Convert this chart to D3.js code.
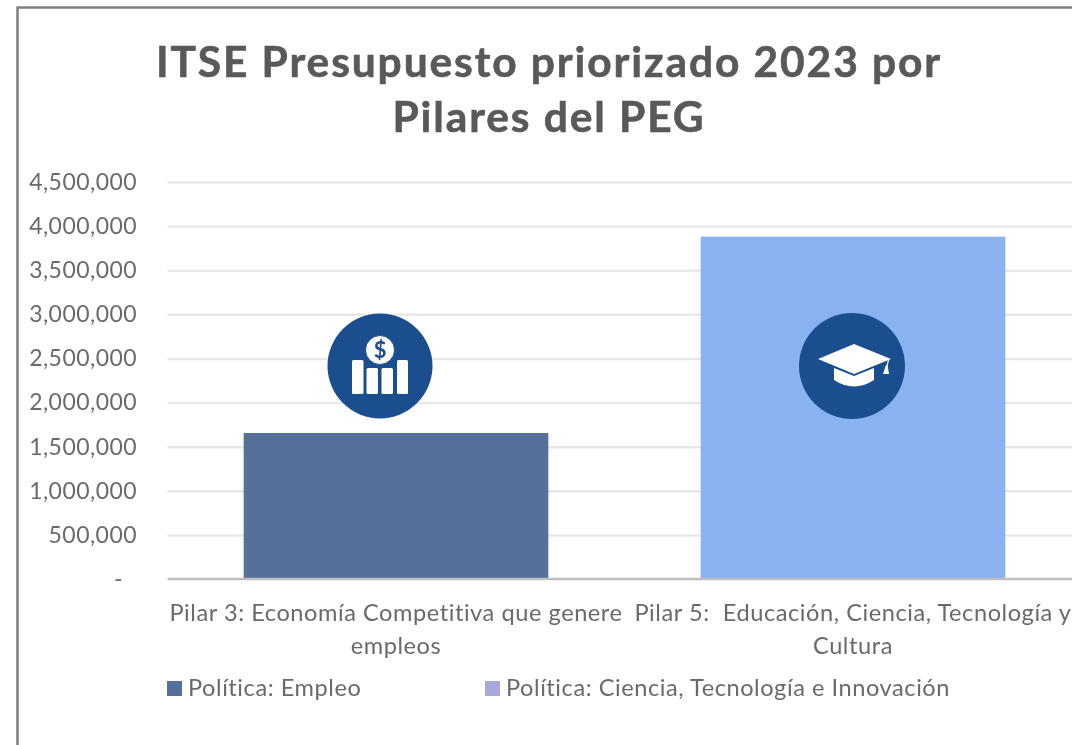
<!DOCTYPE html>
<html>
<head>
<meta charset="utf-8">
<script src="https://cdn.jsdelivr.net/npm/d3@7"></script>
<style>
    html, body { margin: 0; padding: 0; background: #fff; overflow: hidden; }
    text { font-family: Lato, "Open Sans", sans-serif; }
    svg { filter: blur(0.35px); }
</style>
</head>
<body>
<svg id="chart"></svg>
<script>
const width = 1072;
const height = 745;
const margin = { left: 167.5, right: -9.5, top: 182, bottom: 166 };

// values
const categories = ['Pilar 3', 'Pilar 5'];
const categoryLabels = [
    ['Pilar 3: Economía Competitiva que genere', 'empleos'],
    ['Pilar 5:  Educación, Ciencia, Tecnología y', 'Cultura'],
];
const budget = [1655000, 3880000];
const barColors = ['#4f6b96', '#85b0ef'];
const yTicks = [0, 500000, 1000000, 1500000, 2000000, 2500000, 3000000, 3500000, 4000000, 4500000];
const titleLines = ['ITSE Presupuesto priorizado 2023 por', 'Pilares del PEG'];
const legendLabels = ['Política: Empleo', 'Política: Ciencia, Tecnología e Innovación'];
const legendColors = ['#54709a', '#aaa8d8'];

const textColor = '#6a6a6a';

const svg = d3.select('svg#chart').attr('width', width).attr('height', height)
    .style('display', 'block');

svg.append('rect')
    .attr('x', 17.5).attr('y', 7.5)
    .attr('width', width + 10).attr('height', height + 10)
    .attr('fill', '#fff')
    .attr('stroke', '#7f7f7f')
    .attr('stroke-width', 2.5);

const title = svg.append('text')
    .attr('text-anchor', 'middle')
    .attr('fill', '#595959')
    .attr('font-weight', 700)
    .attr('font-size', 42.5)
    .attr('letter-spacing', 1.9)
    .attr('stroke', '#595959')
    .attr('stroke-width', 0.6);
title.selectAll('tspan').data(titleLines).join('tspan')
    .attr('x', 549)
    .attr('y', (d, i) => 77 + i * 55)
    .text(d => d);

const x = d3.scaleBand()
    .domain(categories)
    .range([margin.left, width - margin.right])
    .paddingInner(1 / 3)
    .paddingOuter(1 / 6);

const y = d3.scaleLinear()
    .domain([0, 4500000])
    .range([height - margin.bottom, margin.top]);

// gridlines
const grid = svg.append('g')
    .attr('transform', 'translate(' + margin.left + ', 0)')
    .call(d3.axisLeft(y).tickValues(yTicks.slice(1)).tickSize(-(width - margin.left - margin.right)).tickFormat(''));
grid.select('.domain').remove();
grid.selectAll('line').attr('stroke', '#e8e8e8').attr('stroke-width', 2.5);

// y labels
const yAxis = svg.append('g')
    .attr('transform', 'translate(137, 0)')
    .call(d3.axisLeft(y).tickValues(yTicks).tickSize(0).tickPadding(0)
        .tickFormat(d => d === 0 ? '-' : d3.format(',')(d)));
yAxis.select('.domain').remove();
yAxis.selectAll('text')
    .attr('fill', textColor)
    .attr('font-size', 23)
    .attr('letter-spacing', 0.45)
    .style('font-family', 'Lato, sans-serif');
yAxis.selectAll('text').filter(d => d === 0).attr('dx', -14);

// bars
svg.append('g').selectAll('rect')
    .data(categories)
    .join('rect')
    .attr('x', d => x(d))
    .attr('y', (d, i) => y(budget[i]))
    .attr('width', x.bandwidth())
    .attr('height', (d, i) => y(0) - y(budget[i]))
    .attr('fill', (d, i) => barColors[i])
    .attr('fill-opacity', 0.97);

// baseline
svg.append('line')
    .attr('x1', margin.left).attr('x2', width)
    .attr('y1', y(0)).attr('y2', y(0))
    .attr('stroke', '#bfbfbf')
    .attr('stroke-width', 2.5);

// category labels
const catLabels = svg.append('g').selectAll('text')
    .data(categories)
    .join('text')
    .attr('text-anchor', 'middle')
    .attr('fill', textColor)
    .attr('font-size', 23.6)
    .attr('letter-spacing', 0.55)
    .attr('xml:space', 'preserve');
catLabels.selectAll('tspan')
    .data((d, i) => categoryLabels[i].map(line => ({ line, cx: x(d) + x.bandwidth() / 2 })))
    .join('tspan')
    .attr('x', d => d.cx)
    .attr('y', (d, i) => 621 + i * 33)
    .text(d => d.line);

// legend
const legendX = [167, 485];
const legend = svg.append('g').selectAll('g')
    .data(legendLabels)
    .join('g')
    .attr('transform', (d, i) => 'translate(' + legendX[i] + ', 681)');
legend.append('rect')
    .attr('width', 15).attr('height', 15)
    .attr('fill', (d, i) => legendColors[i]);
legend.append('text')
    .attr('x', 21).attr('y', 15)
    .attr('fill', textColor)
    .attr('font-size', 23.6)
    .attr('letter-spacing', 0.55)
    .text(d => d);

// icons
const iconBlue = '#1b4e8e';
const moneyIcon = svg.append('g').attr('transform', 'translate(380, 366)');
moneyIcon.append('circle').attr('r', 52.5).attr('fill', iconBlue);
[[-28, -6, 11.5, 34], [-13.5, 2, 11.5, 26], [1.5, 2, 11.5, 26], [17, -6, 11, 34]].forEach(b => {
    moneyIcon.append('rect')
        .attr('x', b[0]).attr('y', b[1])
        .attr('width', b[2]).attr('height', b[3])
        .attr('rx', 1.5)
        .attr('fill', '#fff');
});
moneyIcon.append('circle')
    .attr('cy', -16).attr('r', 14.5)
    .attr('fill', '#fff').attr('stroke', iconBlue).attr('stroke-width', 1);
moneyIcon.append('text')
    .attr('y', -8.5)
    .attr('text-anchor', 'middle')
    .attr('font-size', 22)
    .attr('font-weight', 700)
    .attr('fill', iconBlue)
    .text('$');

const capIcon = svg.append('g').attr('transform', 'translate(852, 366)');
capIcon.append('circle').attr('r', 53).attr('fill', iconBlue);
capIcon.append('path')
    .attr('d', 'M-18,2 L-18,14 Q2,27 22,14 L22,2 L2,10 Z')
    .attr('fill', '#fff');
capIcon.append('path')
    .attr('d', 'M-34,-7 L2,-22 L39,-7 L2,8 Z')
    .attr('fill', '#fff');
capIcon.append('line')
    .attr('x1', 36.5).attr('y1', -6).attr('x2', 34.5).attr('y2', 2)
    .attr('stroke', '#fff').attr('stroke-width', 1.2);
capIcon.append('path')
    .attr('d', 'M34,-1 L31,8 L37,8 L35.5,-1 Z')
    .attr('fill', '#fff');
</script>
</body>
</html>
